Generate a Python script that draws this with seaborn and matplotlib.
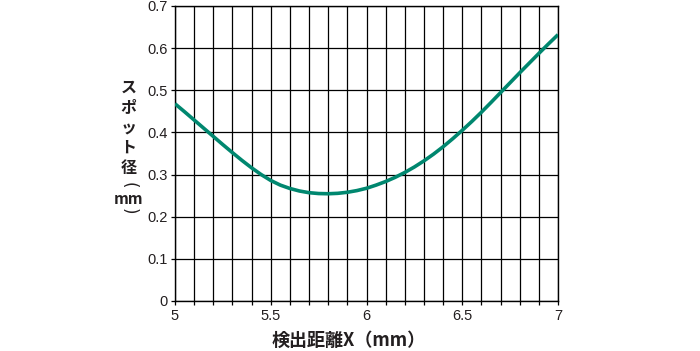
import matplotlib
matplotlib.use("Agg")
import matplotlib.pyplot as plt
import seaborn as sns
import pandas as pd
from matplotlib.ticker import MultipleLocator, FuncFormatter

sns.set_theme(style="white")
plt.rcParams['font.family'] = ['Liberation Sans', 'Noto Sans CJK JP', 'DejaVu Sans']

# Data
distance_mm = [5.00, 5.05, 5.10, 5.15, 5.20, 5.25, 5.30, 5.35, 5.40, 5.45,
               5.50, 5.55, 5.60, 5.65, 5.70, 5.75, 5.80, 5.85, 5.90, 5.95,
               6.00, 6.05, 6.10, 6.15, 6.20, 6.25, 6.30, 6.35, 6.40, 6.45,
               6.50, 6.55, 6.60, 6.65, 6.70, 6.75, 6.80, 6.85, 6.90, 6.95, 7.00]
spot_mm = [0.468, 0.449, 0.4295, 0.410, 0.3905, 0.371, 0.352, 0.3335, 0.316, 0.300,
           0.286, 0.275, 0.267, 0.261, 0.257, 0.255, 0.2545, 0.2555, 0.258, 0.262,
           0.2675, 0.275, 0.2835, 0.2935, 0.305, 0.318, 0.3325, 0.3485, 0.366, 0.385,
           0.405, 0.426, 0.448, 0.471, 0.4945, 0.518, 0.5415, 0.5645, 0.5875, 0.610, 0.632]
x_label = "検出距離X（mm）"
y_label_parts = ["ス", "ポ", "ッ", "ト", "径", "(", "mm", ")"]

df = pd.DataFrame({"x": distance_mm, "y": spot_mm})

ink = "#231f20"
W, H = 700, 351
fig = plt.figure(figsize=(7.0, 3.51), dpi=100)
ax = fig.add_axes([175/W, 1-301/H, 383/W, 295/H])

sns.lineplot(data=df, x="x", y="y", ax=ax, color="#00876f", linewidth=2.6, zorder=3,
             solid_joinstyle="round", solid_capstyle="butt")

ax.set_xlim(5, 7)
ax.set_ylim(0, 0.7)
ax.xaxis.set_major_locator(MultipleLocator(0.5))
ax.xaxis.set_minor_locator(MultipleLocator(0.1))
ax.yaxis.set_major_locator(MultipleLocator(0.1))
ax.xaxis.set_major_formatter(FuncFormatter(lambda v, p: f"{v:g}"))
ax.yaxis.set_major_formatter(FuncFormatter(lambda v, p: f"{v:g}"))
ax.grid(True, which="both", color="black", linewidth=0.9)
ax.tick_params(which="both", direction="out", length=3, width=0.9, color="black",
               labelsize=10.5, labelcolor=ink, bottom=True, left=True)
ax.tick_params(axis="y", pad=2)
ax.tick_params(axis="x", pad=3)
for s in ax.spines.values():
    s.set_color("black")
    s.set_linewidth(1.0)
ax.set_xlabel("")
ax.set_ylabel("")

cjk = ['Noto Sans CJK JP', 'DejaVu Sans']
fig.text(349/W, 1-340.5/H, x_label, ha="center", va="center", fontsize=13,
         color=ink, family=cjk, fontweight="bold")

# vertical y label, one element per line
ycent = [88, 107, 128, 148, 168, 185, 198.5, 211]
for part, yc in zip(y_label_parts, ycent):
    if part in "()":
        fig.text(128.5/W, 1-yc/H, part, ha="center", va="center", fontsize=12,
                 color=ink, family=['DejaVu Sans'], rotation=-90)
    else:
        fig.text(128.5/W, 1-yc/H, part, ha="center", va="center",
                 fontsize=11.5 if part != "mm" else 11, color=ink,
                 family=cjk, fontweight="bold")

fig.savefig("out.png", dpi=100)
